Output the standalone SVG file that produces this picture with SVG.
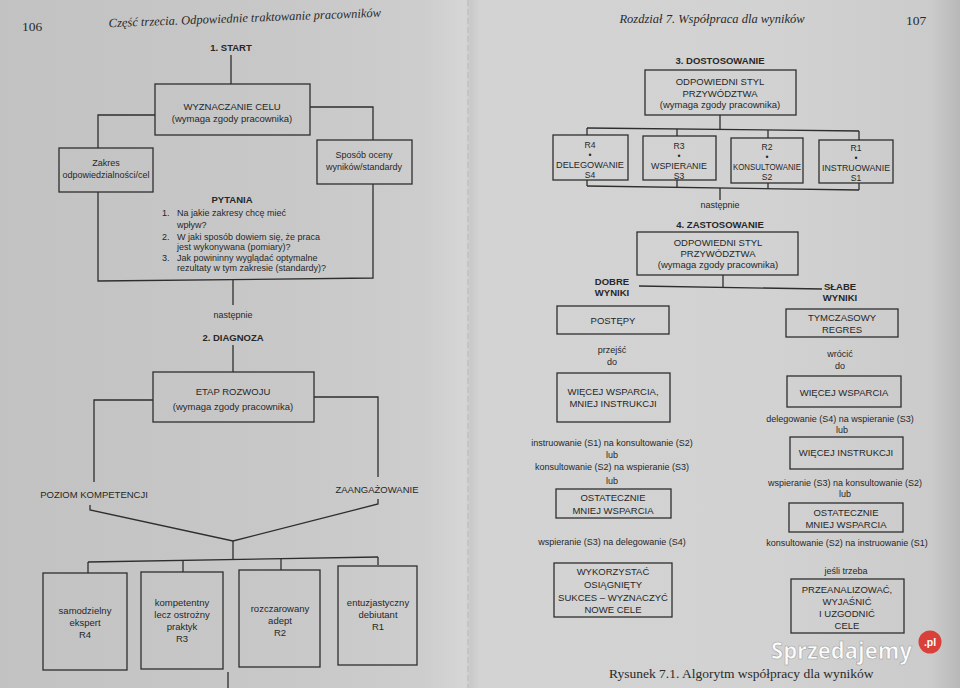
<svg xmlns="http://www.w3.org/2000/svg" width="960" height="688" viewBox="0 0 960 688">
<defs>
<linearGradient id="bg" x1="0" y1="0" x2="1" y2="0">
<stop offset="0" stop-color="#c2c2c2"/>
<stop offset="0.3" stop-color="#c8c8c8"/>
<stop offset="0.44" stop-color="#cdcdcd"/>
<stop offset="0.485" stop-color="#d6d6d6"/>
<stop offset="0.49" stop-color="#c9c9c9"/>
<stop offset="0.5" stop-color="#d3d3d3"/>
<stop offset="0.8" stop-color="#d2d2d2"/>
<stop offset="0.97" stop-color="#cbcbcb"/>
<stop offset="1" stop-color="#b8b8b8"/>
</linearGradient>
<style>
.bx{fill:none;stroke:#2e2e2e;stroke-width:1.3}
.ln{fill:none;stroke:#2e2e2e;stroke-width:1.3}
.t{font-family:"Liberation Sans",Arial,sans-serif;font-size:9.5px;fill:#272727;text-anchor:middle}
.s{font-size:9px}
.r{font-size:8.6px}
.b{font-weight:bold}
.st{text-anchor:start}
.hd{font-family:"Liberation Serif","Times New Roman",serif;font-style:italic;font-size:12.5px;fill:#2a2a2a}
.pn{font-family:"Liberation Serif","Times New Roman",serif;font-size:13.5px;fill:#2a2a2a}
</style>
</defs>
<rect x="0" y="0" width="960" height="688" fill="url(#bg)"/>
<line x1="468" y1="0" x2="468" y2="688" stroke="#b5b5b5" stroke-width="0.8" stroke-dasharray="6 3"/>

<!-- page headers -->
<text class="pn" x="22" y="31">106</text>
<text class="hd" x="245" y="22" text-anchor="middle" transform="rotate(-2.2 245 22)">Część trzecia. Odpowiednie traktowanie pracowników</text>
<text class="hd" x="712" y="23" text-anchor="middle" font-size="13">Rozdział 7. Współpraca dla wyników</text>
<text class="pn" x="906" y="25">107</text>

<!-- connectors -->
<g id="connectors">
<line class="ln" x1="231" y1="55" x2="231" y2="84"/>
<polyline class="ln" points="155,115 98,115 98,148"/>
<polyline class="ln" points="310,107 373,107 373,140"/>
<polyline class="ln" points="98,192 98,281 373,278 373,184"/>
<line class="ln" x1="233" y1="280" x2="233" y2="305"/>
<line class="ln" x1="233" y1="345" x2="233" y2="372"/>
<polyline class="ln" points="153,400 94,400 94,482"/>
<polyline class="ln" points="314,397 378,397 378,477"/>
<polyline class="ln" points="90,505 90,510 233,541 378,504 378,499"/>
<line class="ln" x1="233" y1="541" x2="233" y2="560"/>
<line class="ln" x1="88" y1="562" x2="378" y2="557"/>
<line class="ln" x1="88" y1="562" x2="88" y2="573"/>
<line class="ln" x1="183" y1="560" x2="183" y2="572"/>
<line class="ln" x1="281" y1="559" x2="281" y2="570"/>
<line class="ln" x1="378" y1="557" x2="378" y2="565"/>
<line class="ln" x1="228" y1="672" x2="228" y2="688"/>

<line class="ln" x1="720" y1="115" x2="720" y2="129"/>
<line class="ln" x1="587" y1="128" x2="859" y2="131"/>
<line class="ln" x1="587" y1="128" x2="587" y2="135"/>
<line class="ln" x1="677" y1="129" x2="677" y2="136"/>
<line class="ln" x1="768" y1="130" x2="768" y2="138"/>
<line class="ln" x1="859" y1="131" x2="859" y2="140"/>
<line class="ln" x1="587" y1="180" x2="587" y2="186"/>
<line class="ln" x1="677" y1="180" x2="677" y2="187"/>
<line class="ln" x1="768" y1="183" x2="768" y2="189"/>
<line class="ln" x1="859" y1="183" x2="859" y2="190"/>
<line class="ln" x1="587" y1="186" x2="859" y2="190"/>
<line class="ln" x1="720" y1="188" x2="720" y2="200"/>
<line class="ln" x1="723" y1="275" x2="723" y2="287"/>
<line class="ln" x1="639" y1="286" x2="822" y2="289"/>
</g>

<!-- left page nodes -->
<text class="t b" x="231" y="51">1. START</text>
<g id="wyznaczanie">
<rect class="bx" x="155" y="84" width="155" height="51"/>
<text class="t" x="232" y="110">WYZNACZANIE CELU</text>
<text class="t" x="232" y="122">(wymaga zgody pracownika)</text>
</g>
<g id="zakres">
<rect class="bx" x="59" y="148" width="94" height="44"/>
<text class="t s" x="106" y="166">Zakres</text>
<text class="t s" x="106" y="178">odpowiedzialności/cel</text>
</g>
<g id="sposob">
<rect class="bx" x="317" y="140" width="95" height="44"/>
<text class="t s" x="364" y="158">Sposób oceny</text>
<text class="t s" x="364" y="170">wyników/standardy</text>
</g>
<g id="pytania">
<text class="t b" x="232" y="203" font-size="10">PYTANIA</text>
<text class="t s st" x="162" y="216">1.</text>
<text class="t s st" x="177" y="216">Na jakie zakresy chcę mieć</text>
<text class="t s st" x="177" y="228">wpływ?</text>
<text class="t s st" x="162" y="240">2.</text>
<text class="t s st" x="177" y="240">W jaki sposób dowiem się, że praca</text>
<text class="t s st" x="177" y="250">jest wykonywana (pomiary)?</text>
<text class="t s st" x="162" y="261">3.</text>
<text class="t s st" x="177" y="261">Jak powininny wyglądać optymalne</text>
<text class="t s st" x="177" y="271">rezultaty w tym zakresie (standardy)?</text>
</g>
<text class="t s" x="233" y="318">następnie</text>
<text class="t b" x="233" y="341">2. DIAGNOZA</text>
<g id="etap">
<rect class="bx" x="153" y="372" width="161" height="50"/>
<text class="t" x="233" y="395">ETAP ROZWOJU</text>
<text class="t" x="233" y="410">(wymaga zgody pracownika)</text>
</g>
<text class="t" x="94" y="498">POZIOM KOMPETENCJI</text>
<text class="t" x="377" y="493">ZAANGAŻOWANIE</text>
<g id="r4">
<rect class="bx" x="43" y="573" width="84" height="97"/>
<text class="t" x="85" y="614">samodzielny</text>
<text class="t" x="85" y="626">ekspert</text>
<text class="t" x="85" y="638">R4</text>
</g>
<g id="r3">
<rect class="bx" x="141" y="572" width="82" height="97"/>
<text class="t" x="182" y="606">kompetentny</text>
<text class="t" x="182" y="618">lecz ostrożny</text>
<text class="t" x="182" y="630">praktyk</text>
<text class="t" x="182" y="642">R3</text>
</g>
<g id="r2">
<rect class="bx" x="239" y="570" width="81" height="97"/>
<text class="t" x="280" y="612">rozczarowany</text>
<text class="t" x="280" y="624">adept</text>
<text class="t" x="280" y="636">R2</text>
</g>
<g id="r1">
<rect class="bx" x="338" y="566" width="79" height="99"/>
<text class="t" x="378" y="606">entuzjastyczny</text>
<text class="t" x="378" y="618">debiutant</text>
<text class="t" x="378" y="630">R1</text>
</g>

<!-- right page nodes -->
<text class="t b" x="720" y="64">3. DOSTOSOWANIE</text>
<g id="styl1">
<rect class="bx" x="645" y="70" width="151" height="45"/>
<text class="t" x="720" y="85">ODPOWIEDNI STYL</text>
<text class="t" x="720" y="97">PRZYWÓDZTWA</text>
<text class="t" x="720" y="108">(wymaga zgody pracownika)</text>
</g>
<g id="s4">
<rect class="bx" x="553" y="135" width="75" height="45"/>
<text class="t r" x="590" y="148">R4</text>
<text class="t r" x="590" y="157.5">•</text>
<text class="t r" x="590" y="168" textLength="68" lengthAdjust="spacingAndGlyphs">DELEGOWANIE</text>
<text class="t r" x="590" y="177.5">S4</text>
</g>
<g id="s3">
<rect class="bx" x="643" y="136" width="73" height="44"/>
<text class="t r" x="679" y="149">R3</text>
<text class="t r" x="679" y="158.5">•</text>
<text class="t r" x="679" y="169" textLength="56" lengthAdjust="spacingAndGlyphs">WSPIERANIE</text>
<text class="t r" x="679" y="178.5">S3</text>
</g>
<g id="s2">
<rect class="bx" x="731" y="138" width="72" height="45"/>
<text class="t r" x="767" y="150">R2</text>
<text class="t r" x="767" y="159.5">•</text>
<text class="t r" x="767" y="170" textLength="68" lengthAdjust="spacingAndGlyphs">KONSULTOWANIE</text>
<text class="t r" x="767" y="179.5">S2</text>
</g>
<g id="s1">
<rect class="bx" x="819" y="140" width="74" height="43"/>
<text class="t r" x="856" y="151">R1</text>
<text class="t r" x="856" y="160.5">•</text>
<text class="t r" x="856" y="171" textLength="68" lengthAdjust="spacingAndGlyphs">INSTRUOWANIE</text>
<text class="t r" x="856" y="180.5">S1</text>
</g>
<text class="t s" x="720" y="208">następnie</text>
<text class="t b" x="720" y="228">4. ZASTOSOWANIE</text>
<g id="styl2">
<rect class="bx" x="637" y="232" width="161" height="43"/>
<text class="t" x="718" y="246">ODPOWIEDNI STYL</text>
<text class="t" x="718" y="257">PRZYWÓDZTWA</text>
<text class="t" x="718" y="268">(wymaga zgody pracownika)</text>
</g>
<text class="t b" x="612" y="285">DOBRE</text>
<text class="t b" x="612" y="296">WYNIKI</text>
<text class="t b" x="840" y="290">SŁABE</text>
<text class="t b" x="840" y="301">WYNIKI</text>
<g id="postepy">
<rect class="bx" x="557" y="306" width="112" height="28"/>
<text class="t" x="613" y="324">POSTĘPY</text>
</g>
<g id="regres">
<rect class="bx" x="786" y="309" width="112" height="28"/>
<text class="t" x="842" y="321">TYMCZASOWY</text>
<text class="t" x="842" y="333">REGRES</text>
</g>
<text class="t s" x="612" y="353">przejść</text>
<text class="t s" x="612" y="365">do</text>
<g id="wiecej1">
<rect class="bx" x="557" y="373" width="113" height="49"/>
<text class="t" x="613" y="395">WIĘCEJ WSPARCIA,</text>
<text class="t" x="613" y="407">MNIEJ INSTRUKCJI</text>
</g>
<text class="t s" x="612" y="446">instruowanie (S1) na konsultowanie (S2)</text>
<text class="t s" x="612" y="458">lub</text>
<text class="t s" x="612" y="470">konsultowanie (S2) na wspieranie (S3)</text>
<text class="t s" x="612" y="484">lub</text>
<g id="ostatecznie1">
<rect class="bx" x="556" y="489" width="115" height="29"/>
<text class="t" x="613" y="501">OSTATECZNIE</text>
<text class="t" x="613" y="514">MNIEJ WSPARCIA</text>
</g>
<text class="t s" x="612" y="545">wspieranie (S3) na delegowanie (S4)</text>
<g id="wykorzystac">
<rect class="bx" x="554" y="563" width="118" height="54"/>
<text class="t" x="613" y="575">WYKORZYSTAĆ</text>
<text class="t" x="613" y="588">OSIĄGNIĘTY</text>
<text class="t" x="613" y="601">SUKCES – WYZNACZYĆ</text>
<text class="t" x="613" y="613">NOWE CELE</text>
</g>
<text class="t s" x="840" y="357">wrócić</text>
<text class="t s" x="840" y="369">do</text>
<g id="wiecej2">
<rect class="bx" x="787" y="376" width="114" height="31"/>
<text class="t" x="844" y="396">WIĘCEJ WSPARCIA</text>
</g>
<text class="t s" x="840" y="422">delegowanie (S4) na wspieranie (S3)</text>
<text class="t s" x="842" y="433">lub</text>
<g id="wiecej3">
<rect class="bx" x="790" y="437" width="113" height="32"/>
<text class="t" x="846" y="456">WIĘCEJ INSTRUKCJI</text>
</g>
<text class="t s" x="845" y="486">wspieranie (S3) na konsultowanie (S2)</text>
<text class="t s" x="845" y="497">lub</text>
<g id="ostatecznie2">
<rect class="bx" x="789" y="503" width="114" height="29"/>
<text class="t" x="846" y="516">OSTATECZNIE</text>
<text class="t" x="846" y="528">MNIEJ WSPARCIA</text>
</g>
<text class="t s" x="847" y="546">konsultowanie (S2) na instruowanie (S1)</text>
<text class="t s" x="846" y="574">jeśli trzeba</text>
<g id="przeanalizowac">
<rect class="bx" x="791" y="579" width="113" height="54"/>
<text class="t" x="847" y="593">PRZEANALIZOWAĆ,</text>
<text class="t" x="847" y="605">WYJAŚNIĆ</text>
<text class="t" x="847" y="617">I UZGODNIĆ</text>
<text class="t" x="847" y="629">CELE</text>
</g>

<text class="pn" x="609" y="678" font-size="12">Rysunek 7.1. Algorytm współpracy dla wyników</text>

<!-- watermark -->
<g id="watermark">
<text x="771" y="659" font-family="'Open Sans','Liberation Sans',sans-serif" font-weight="bold" font-size="24" fill="#ffffff" stroke="#9a9a9a" stroke-width="0.6" textLength="141" lengthAdjust="spacingAndGlyphs" opacity="0.92">Sprzedajemy</text>
<circle cx="930" cy="642" r="11.5" fill="#d9403a"/>
<text x="930" y="646" font-family="'Liberation Sans',sans-serif" font-weight="bold" font-size="10.5" fill="#ffffff" text-anchor="middle">.pl</text>
</g>
</svg>
